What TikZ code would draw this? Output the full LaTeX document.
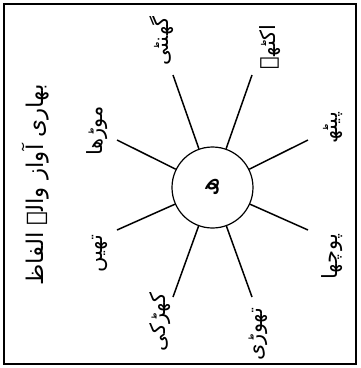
\documentclass[tikz,border=0pt]{standalone}
\usepackage{fontspec}
\newfontfamily\urdufont[Script=Arabic]{DejaVu Sans}
\TeXXeTstate=1
\tikzstyle{word} = [
    font=\urdufont\fontsize{21}{21}\selectfont,
    rotate=90,
    inner sep=0pt
]
\tikzstyle{heading} = [
    font=\urdufont\fontsize{23}{23}\selectfont,
    rotate=90,
    inner sep=0pt
]
\tikzstyle{hub} = [
    circle,
    minimum size=81pt,
    line width=1.2pt,
    draw=black
]
\tikzstyle{spoke} = [line width=1.5pt]

\begin{document}
\begin{tikzpicture}[x=1pt, y=-1pt]
\useasboundingbox (0,0) rectangle (360,368);
\draw [line width=2pt] (4,4) rectangle (356,364);

\node (title) [heading] at (36,185) {\beginR بھاری آواز والے الفاظ\endR};

\node (hub) [hub] at (212.5,187.5) {};
\node (letter) [word, font=\urdufont\fontsize{27}{27}\selectfont] at (hub) {\beginR ھ\endR};

\node (ghanti) [word] at (162,41) {\beginR گھنٹی\endR};
\node (ikatthe) [word] at (270,47) {\beginR اکٹھے\endR};
\node (peeth) [word] at (333,128) {\beginR پیٹھ\endR};
\node (poocha) [word] at (332,257) {\beginR پوچھا\endR};
\node (thori) [word] at (258,334) {\beginR تھوڑی\endR};
\node (khirki) [word] at (160,322) {\beginR کھڑکی\endR};
\node (theen) [word] at (100,254) {\beginR تھیں\endR};
\node (moorha) [word] at (97,131) {\beginR موڑھا\endR};

\coordinate (e1) at (173,75);
\coordinate (e2) at (252,75);
\coordinate (e3) at (308,140);
\coordinate (e4) at (308,230);
\coordinate (e5) at (252,297);
\coordinate (e6) at (173,297);
\coordinate (e7) at (117,230);
\coordinate (e8) at (117,140);

\draw [spoke] (hub) -- (e1);
\draw [spoke] (hub) -- (e2);
\draw [spoke] (hub) -- (e3);
\draw [spoke] (hub) -- (e4);
\draw [spoke] (hub) -- (e5);
\draw [spoke] (hub) -- (e6);
\draw [spoke] (hub) -- (e7);
\draw [spoke] (hub) -- (e8);

\end{tikzpicture}
\end{document}
